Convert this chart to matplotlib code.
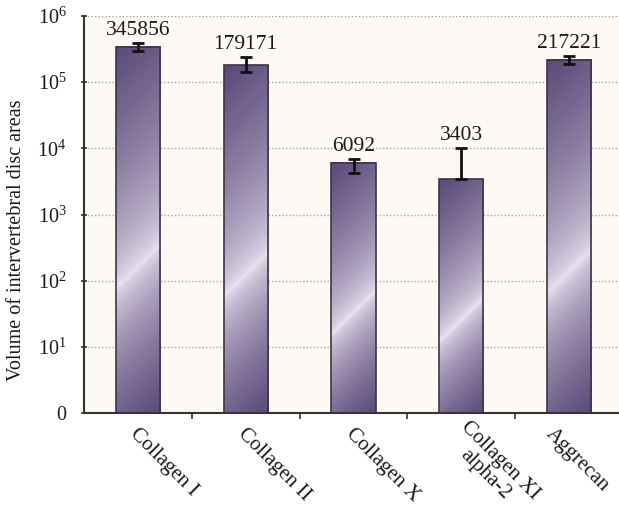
import numpy as np
import matplotlib
matplotlib.use('Agg')
import matplotlib.pyplot as plt
from matplotlib.image import BboxImage
from matplotlib.transforms import Bbox, TransformedBbox, ScaledTranslation
from matplotlib.colors import to_rgb
from matplotlib.ticker import NullLocator

# ---------------- data ----------------
categories = ["Collagen I", "Collagen II", "Collagen X", "Collagen XI\nalpha-2", "Aggrecan"]
values = [345856, 179171, 6092, 3403, 217221]
err_low = [52000, 38000, 1800, 0, 30000]
err_high = [42000, 59000, 780, 6670, 30000]
value_labels = ["345856", "179171", "6092", "3403", "217221"]
ytick_values = [1, 10, 100, 1e3, 1e4, 1e5, 1e6]
ytick_labels = ["0", "10$^{1}$", "10$^{2}$", "10$^{3}$", "10$^{4}$", "10$^{5}$", "10$^{6}$"]
ylabel = "Volume of intervertebral disc areas"

plt.rcParams['font.family'] = ['Liberation Serif', 'DejaVu Serif']
plt.rcParams['mathtext.fontset'] = 'custom'
plt.rcParams['mathtext.rm'] = 'Liberation Serif'
plt.rcParams['mathtext.it'] = 'Liberation Serif:italic'
plt.rcParams['mathtext.bf'] = 'Liberation Serif:bold'

DPI = 100
fig = plt.figure(figsize=(6.19, 5.07), dpi=DPI, facecolor='white')
ax = fig.add_axes([84 / 619, (507 - 413) / 507, (623 - 84) / 619, (413 - 16) / 507])
ax.set_facecolor('#fdf9f4')
ax.set_yscale('log')
x = np.arange(len(categories))
ax.set_xlim(-0.5, 4.5)
ax.set_ylim(1, 1e6)

heights = np.subtract(values, 1)
bars = ax.bar(x, heights, width=0.41, bottom=1, facecolor='none',
              edgecolor='#3b3646', linewidth=1.2, zorder=3)

# gradient fill for each bar (diagonal, light band, dark corners)
dark = np.array(to_rgb('#5b4979'))
light = np.array(to_rgb('#ebe6f2'))
for b in bars:
    (x0, y0), (x1, y1) = ax.transData.transform(
        [(b.get_x(), b.get_y()), (b.get_x() + b.get_width(), b.get_y() + b.get_height())])
    wpx = max(int(round(abs(x1 - x0))), 2)
    hpx = max(int(round(abs(y1 - y0))), 2)
    jj, ii = np.meshgrid(np.arange(wpx) + 0.5, np.arange(hpx) + 0.5)
    d = (jj - wpx / 2) + (ii - 0.6 * hpx)
    ltop = 0.6 * hpx + wpx / 2
    lbot = 0.4 * hpx + wpx / 2
    t = np.where(d < 0, -d / ltop, d / lbot)
    t = np.clip(t, 0, 1) ** 0.6
    rgb = light + (dark - light) * t[..., None]
    bbox = TransformedBbox(Bbox.from_bounds(b.get_x(), b.get_y(), b.get_width(), b.get_height()),
                           ax.transData)
    im = BboxImage(bbox, interpolation='bilinear', origin='upper', zorder=2.5)
    im.set_data(rgb)
    ax.add_artist(im)

ax.errorbar(x, values, yerr=[err_low, err_high], fmt='none', ecolor='#111111',
            elinewidth=2, capsize=4, capthick=2, zorder=4)

for xi, v, eh, lab in zip(x, values, err_high, value_labels):
    ax.annotate(lab, (xi, v + eh), xytext=(0, 2), textcoords='offset points',
                ha='center', va='bottom', fontsize=15.5, color='#1a1a1a')

ax.set_axisbelow(True)
ax.yaxis.grid(True, linestyle=(0, (1, 1.5)), color='#aaa59f', linewidth=1)
ax.xaxis.grid(False)
for s in ['top', 'right']:
    ax.spines[s].set_visible(False)
for s in ['left', 'bottom']:
    ax.spines[s].set_color('#333333')
    ax.spines[s].set_linewidth(1.5)

ax.set_yticks(ytick_values, ytick_labels)
ax.yaxis.set_minor_locator(NullLocator())
ax.tick_params(axis='y', direction='inout', length=5, width=1.2, color='#333333',
               labelsize=14.5, pad=10, labelcolor='#1a1a1a')
ax.set_xticks([0.5, 1.5, 2.5, 3.5], [])
ax.tick_params(axis='x', direction='out', length=4, width=1.2, color='#333333')

ax.set_ylabel(ylabel, fontsize=14.5, color='#1a1a1a')
ax.yaxis.set_label_coords(-0.108, 0.435)

base_dx, base_dy = -5, -18
texts = []
for xi, lab in zip(x, categories):
    offset = ScaledTranslation(base_dx / DPI, base_dy / DPI, fig.dpi_scale_trans)
    t = ax.text(xi, 0, lab, transform=ax.get_xaxis_transform() + offset, rotation=-45,
                rotation_mode='anchor', ha='left', va='center', multialignment='center',
                linespacing=1.1, fontsize=15, color='#1a1a1a')
    texts.append((xi, t))

# keep rotated category labels inside the figure (shift left if needed)
fig.canvas.draw()
renderer = fig.canvas.get_renderer()
fig_w = fig.bbox.width
for xi, t in texts:
    ext = t.get_window_extent(renderer)
    over = ext.x1 - (fig_w - 6)
    if over > 0:
        offset = ScaledTranslation((base_dx - over) / DPI, base_dy / DPI, fig.dpi_scale_trans)
        t.set_transform(ax.get_xaxis_transform() + offset)

fig.savefig('out.png', dpi=DPI, facecolor='white')
